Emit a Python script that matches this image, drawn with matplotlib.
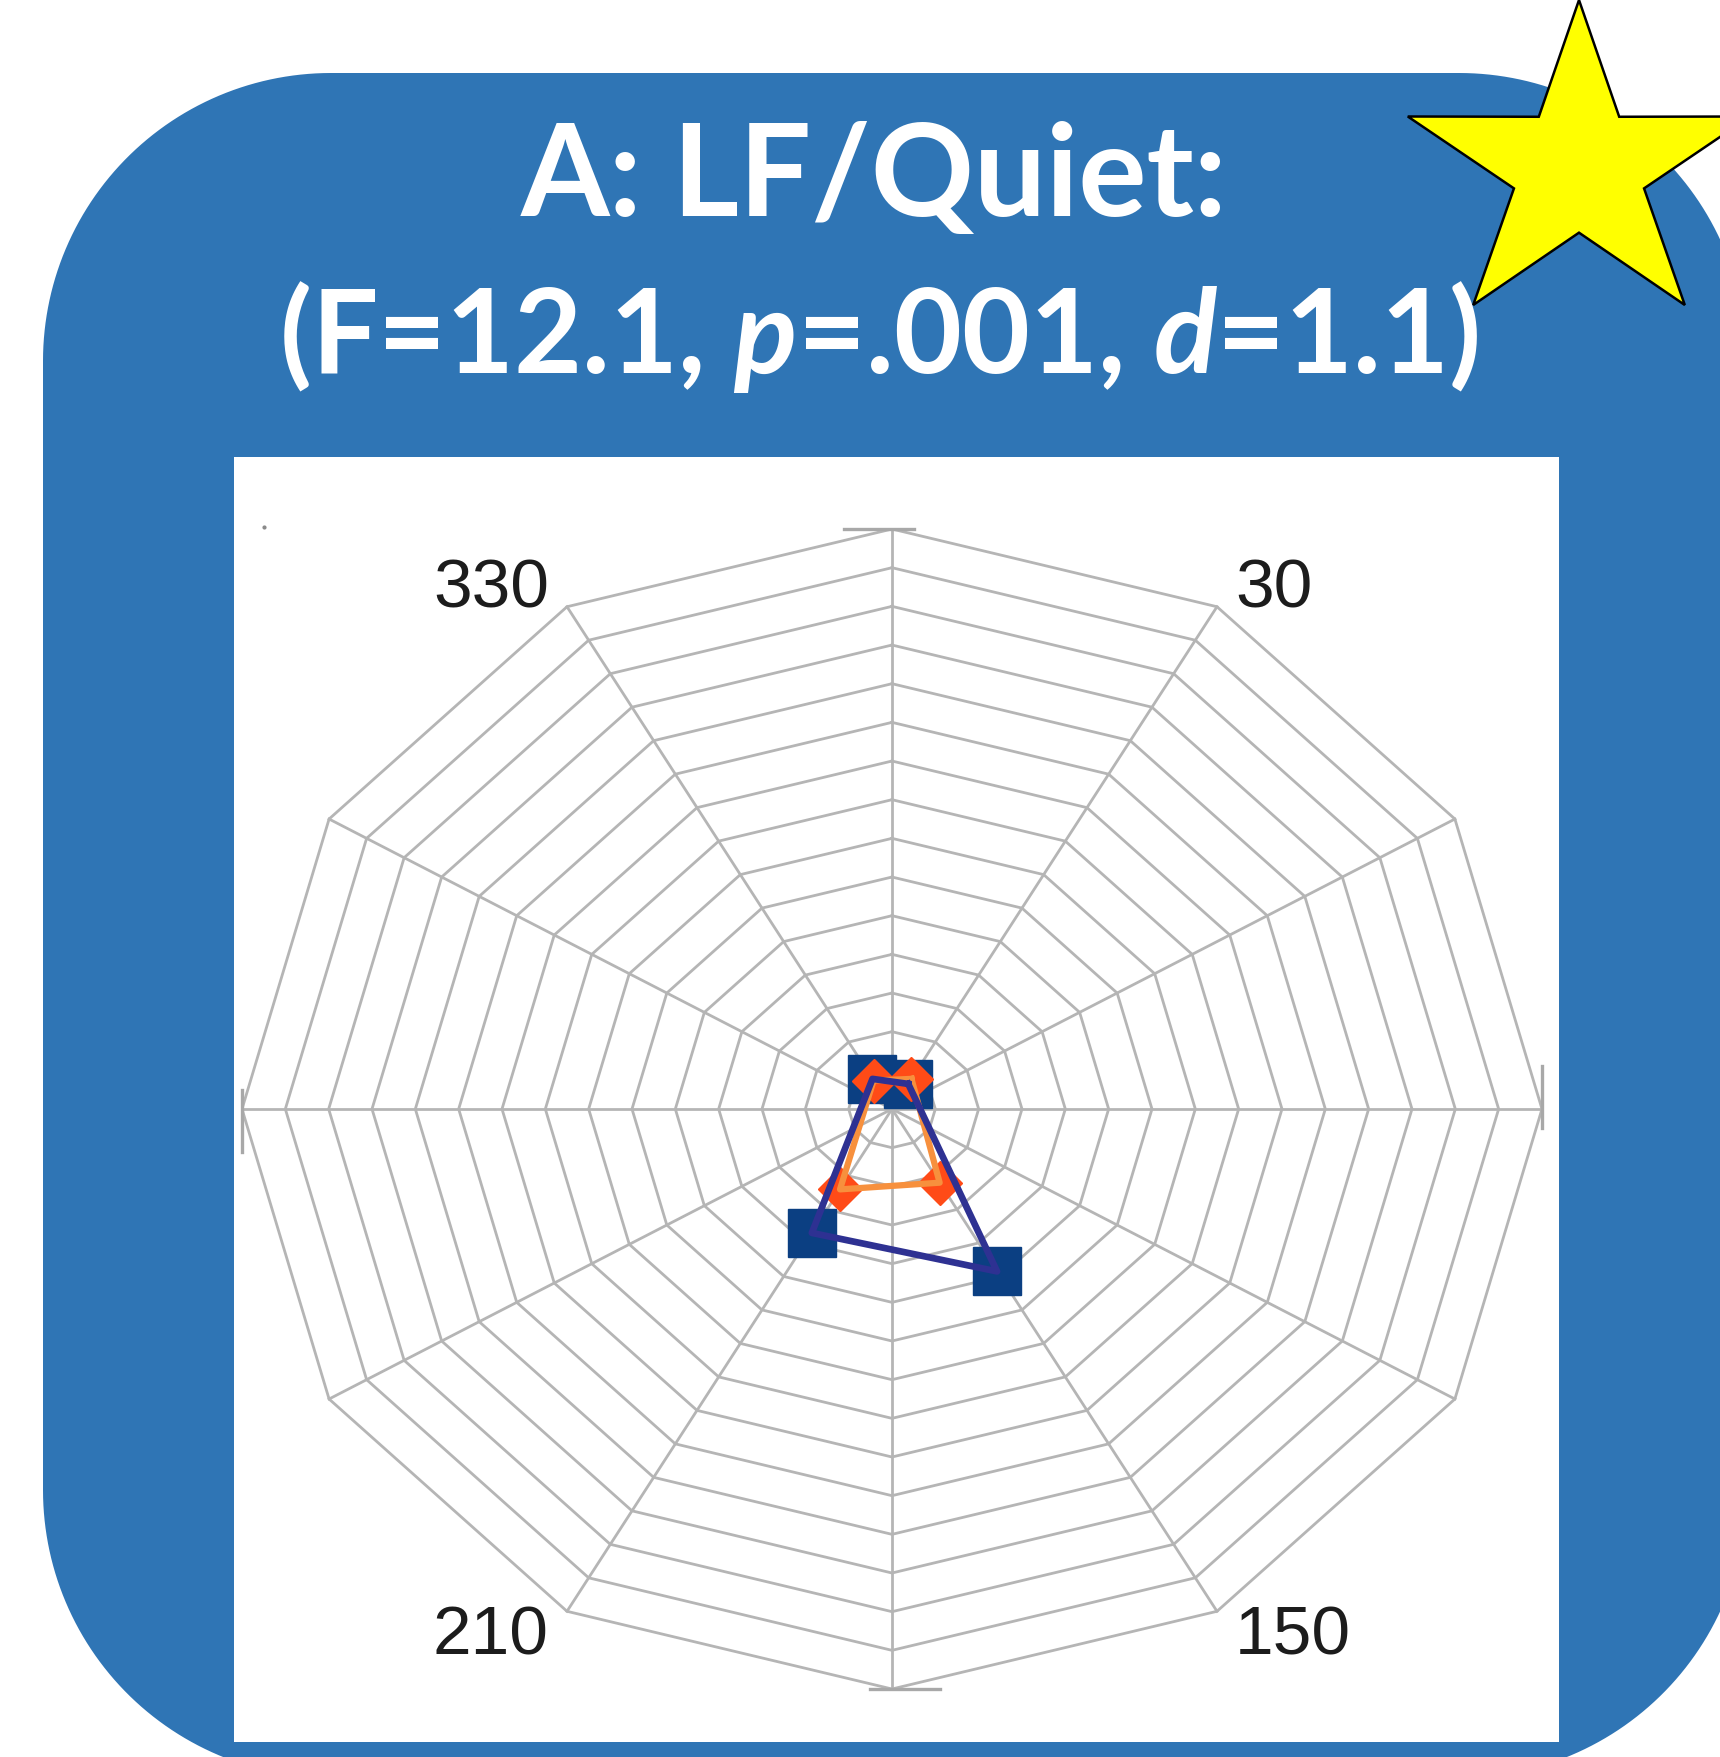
import numpy as np
import matplotlib.pyplot as plt
from matplotlib.patches import Rectangle, Polygon

plt.rcParams['mathtext.fontset'] = 'custom'
plt.rcParams['mathtext.rm'] = 'Lato:bold'
plt.rcParams['mathtext.it'] = 'Lato:bold:italic'

# radar values: angle in degrees (clockwise from top) and radius
angles = [30, 150, 210, 330]
square_r = [0.75, 4.85, 3.7, 0.9]
diamond_r = [0.9, 2.2, 2.4, 0.85]

label_angles = [330, 30, 210, 150]
label_text = ['330', '30', '210', '150']

r_max = 15
spoke_step = 30

title_1 = 'A: LF/Quiet:'
title_2 = r'(F=12.1, $\mathit{p}$=.001, $\mathit{d}$=1.1)'

W, H = 1720, 1757
fig = plt.figure(figsize=(W / 100, H / 100), dpi=100)

# background layer in pixel units
bg = fig.add_axes([0, 0, 1, 1])
bg.set_xlim(0, W)
bg.set_ylim(H, 0)
bg.axis('off')


def round_rect(x0, y0, x1, y1, r, n=60):
    # outline with true circular corners
    t = np.linspace(0, np.pi / 2, n)
    pts = []
    for cx, cy, start in [(x1 - r, y0 + r, -np.pi / 2), (x1 - r, y1 - r, 0),
                          (x0 + r, y1 - r, np.pi / 2), (x0 + r, y0 + r, np.pi)]:
        pts.append(np.column_stack([cx + r * np.cos(start + t), cy + r * np.sin(start + t)]))
    return np.vstack(pts)


bg.add_patch(Polygon(round_rect(43, 73, 1747, 1778, 288), closed=True,
                     fc='#2f75b5', ec='none'))
bg.add_patch(Rectangle((234, 457), 1325, 1285, fc='white', ec='none'))
bg.plot(264, 527, 'o', ms=2, color='#8a8a8a')

# yellow star
k = np.arange(10)
a = np.pi / 2 - k * np.pi / 5
rad = np.where(k % 2 == 0, 1.0, 0.38)
star = np.column_stack([1579 + 180 * rad * np.cos(a), 168.6 - 168.6 * rad * np.sin(a)])
bg.add_patch(Polygon(star, closed=True, fc='#ffff00', ec='black', lw=1.8, zorder=10))

bg.text(874, 216, title_1, color='white', fontsize=92, fontweight='bold',
        family='Lato', ha='center', va='baseline')
bg.text(879, 373, title_2, color='white', fontsize=84.5, fontweight='bold',
        family='Lato', ha='center', va='baseline')

# radar plot
ax = fig.add_axes([0.1407, 0.0387, 0.7558, 0.6602])
ax.set_xlim(-r_max, r_max)
ax.set_ylim(-r_max, r_max)
ax.axis('off')


def to_xy(theta, r):
    t = np.deg2rad(theta)
    return r * np.sin(t), r * np.cos(t)


grid_c = '#b5b5b5'
spokes = np.arange(0, 360, spoke_step)
for s in spokes:
    x, y = to_xy(s, r_max)
    ax.plot([0, x], [0, y], color=grid_c, lw=2.0, zorder=1)

ring = np.append(spokes, 0)
for lv in range(1, r_max + 1):
    x, y = to_xy(ring, lv)
    ax.plot(x, y, color=grid_c, lw=2.0, zorder=1)

# short ticks at the ends of the main axes
for s in [0, 90, 180, 270]:
    x, y = to_xy(s, r_max)
    t = np.deg2rad(s)
    dx, dy = -np.cos(t), np.sin(t)
    ax.plot([x - 0.5 * dx, x + 1.1 * dx], [y - 0.5 * dy, y + 1.1 * dy],
            color='#a8a8a8', lw=2.4, zorder=1, clip_on=False)

for s, txt in zip(label_angles, label_text):
    x, y = to_xy(s, r_max)
    ax.annotate(txt, (x, y), xytext=(13 * np.sign(x), 12.5 if y > 0 else -18),
                textcoords='offset points', ha='left' if x > 0 else 'right',
                va='center', fontsize=50, family='Liberation Sans',
                color='#1c1c1c', annotation_clip=False)

ang = np.array(angles + angles[:1])
sx, sy = to_xy(ang, np.array(square_r + square_r[:1]))
dx, dy = to_xy(ang, np.array(diamond_r + diamond_r[:1]))

ax.plot(sx[:-1], sy[:-1], ls='none', marker='s', ms=34, color='#0b3f82', zorder=3)
ax.plot(dx[:-1], dy[:-1], ls='none', marker='D', ms=22, color='#ff4b17', zorder=4)
ax.plot(dx, dy, color='#f7903d', lw=4.5, zorder=5)
ax.plot(sx, sy, color='#2e3192', lw=4.8, zorder=6)

fig.savefig('out.png', dpi=100)
